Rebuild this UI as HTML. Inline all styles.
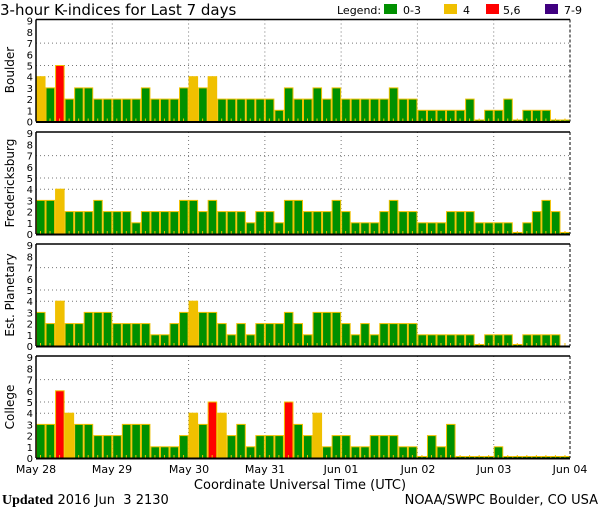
<!DOCTYPE html>
<html><head><meta charset="utf-8"><style>
body{margin:0;background:#fff;width:600px;height:510px;overflow:hidden}
svg{display:block}
text{font-family:"DejaVu Sans","Liberation Sans",sans-serif;fill:#000}
</style></head><body>
<svg id="s" width="600" height="510" xmlns="http://www.w3.org/2000/svg">
<text x="0" y="15" font-size="15">3-hour K-indices for Last 7 days</text>
<text x="337" y="14" font-size="11">Legend:</text>
<rect x="384" y="4" width="13" height="10" fill="#009000"/>
<text x="403" y="14" font-size="11">0-3</text>
<rect x="444" y="4" width="13" height="10" fill="#f0c000"/>
<text x="463" y="14" font-size="11">4</text>
<rect x="486" y="4" width="13" height="10" fill="#ff0000"/>
<text x="503" y="14" font-size="11">5,6</text>
<rect x="545" y="4" width="13" height="10" fill="#400080"/>
<text x="564" y="14" font-size="11">7-9</text>
<text transform="translate(14,70) rotate(-90)" text-anchor="middle" font-size="12">Boulder</text>
<text transform="translate(14,183) rotate(-90)" text-anchor="middle" font-size="12">Fredericksburg</text>
<text transform="translate(14,295) rotate(-90)" text-anchor="middle" font-size="12">Est. Planetary</text>
<text transform="translate(14,407) rotate(-90)" text-anchor="middle" font-size="12">College</text>
<g font-size="11" text-anchor="middle">
<text x="36" y="473">May 28</text><text x="112" y="473">May 29</text><text x="189" y="473">May 30</text><text x="265" y="473">May 31</text><text x="341" y="473">Jun 01</text><text x="418" y="473">Jun 02</text><text x="494" y="473">Jun 03</text><text x="570" y="473">Jun 04</text>
</g>
<text x="300" y="489" font-size="13" text-anchor="middle">Coordinate Universal Time (UTC)</text>
<text x="2" y="504" font-size="13"><tspan style="font-family:'Liberation Serif',serif;font-weight:bold;font-size:14px">Updated</tspan> 2016 Jun &#160;3 2130</text>
<text x="598" y="504" font-size="13" text-anchor="end">NOAA/SWPC Boulder, CO USA</text>
</svg>
<script>
var D=[
[4,3,5,2,3,3,2,2, 2,2,2,3,2,2,2,3, 4,3,4,2,2,2,2,2, 2,1,3,2,2,3,2,3, 2,2,2,2,2,3,2,2, 1,1,1,1,1,2,0,1, 1,2,0,1,1,1,0,0],
[3,3,4,2,2,2,3,2, 2,2,1,2,2,2,2,3, 3,2,3,2,2,2,1,2, 2,1,3,3,2,2,2,3, 2,1,1,1,2,3,2,2, 1,1,1,2,2,2,1,1, 1,1,0,1,2,3,2,0],
[3,2,4,2,2,3,3,3, 2,2,2,2,1,1,2,3, 4,3,3,2,1,2,1,2, 2,2,3,2,1,3,3,3, 2,1,2,1,2,2,2,2, 1,1,1,1,1,1,0,1, 1,1,0,1,1,1,1,-1],
[3,3,6,4,3,3,2,2, 2,3,3,3,1,1,1,2, 4,3,5,4,2,3,1,2, 2,2,5,3,2,4,1,2, 2,1,1,2,2,2,1,1, 0,2,1,3,0,0,0,0, 1,0,0,0,0,0,0,0]];
var tops=[19.5,132,244,356],H=102,L=36,R=570,U=11.2,s='';
var bw=(R-L)/56;
for(var p=0;p<4;p++){var t=tops[p],b=t+H;
 [4,5,7].forEach(function(k){var y=b-k*U;s+='<line x1="'+L+'" x2="'+R+'" y1="'+y+'" y2="'+y+'" stroke="#777" stroke-dasharray="1,3"/>';});
 for(var d=1;d<7;d++){var x=L+d*(R-L)/7;s+='<line x1="'+x+'" x2="'+x+'" y1="'+t+'" y2="'+b+'" stroke="#777" stroke-dasharray="1,3"/>';}
 for(var i=0;i<56;i++){var v=D[p][i],x=L+i*bw;
  if(v>=0){var h=Math.max(v*U,1.5),c=v<=3?'#009000':v==4?'#f0c000':v<=6?'#ff0000':'#400080';
   s+='<rect x="'+(x+0.5)+'" y="'+(b-h)+'" width="'+(bw-1)+'" height="'+h+'" fill="'+c+'" stroke="#f0c000" stroke-width="1"/>';}
  s+='<rect x="'+(x+4)+'" y="'+(b-3)+'" width="1" height="3" fill="#f0c000"/>';}
 s+='<line x1="'+L+'" x2="'+R+'" y1="'+t+'" y2="'+t+'" stroke="#000" stroke-width="1.5"/>';
 s+='<line x1="'+L+'" x2="'+L+'" y1="'+t+'" y2="'+b+'" stroke="#000" stroke-width="1.5"/>';
 s+='<line x1="'+R+'" x2="'+R+'" y1="'+t+'" y2="'+b+'" stroke="#000" stroke-dasharray="3,2"/>';
 s+='<line x1="'+L+'" x2="'+R+'" y1="'+(b+0.5)+'" y2="'+(b+0.5)+'" stroke="#000" stroke-width="2"/>';
 for(var k=0;k<=9;k++){s+='<text x="33" y="'+(b-k*U+4)+'" font-size="10" text-anchor="end">'+k+'</text>';}
}
document.getElementById('s').insertAdjacentHTML('beforeend',s);
</script>
</body></html>
